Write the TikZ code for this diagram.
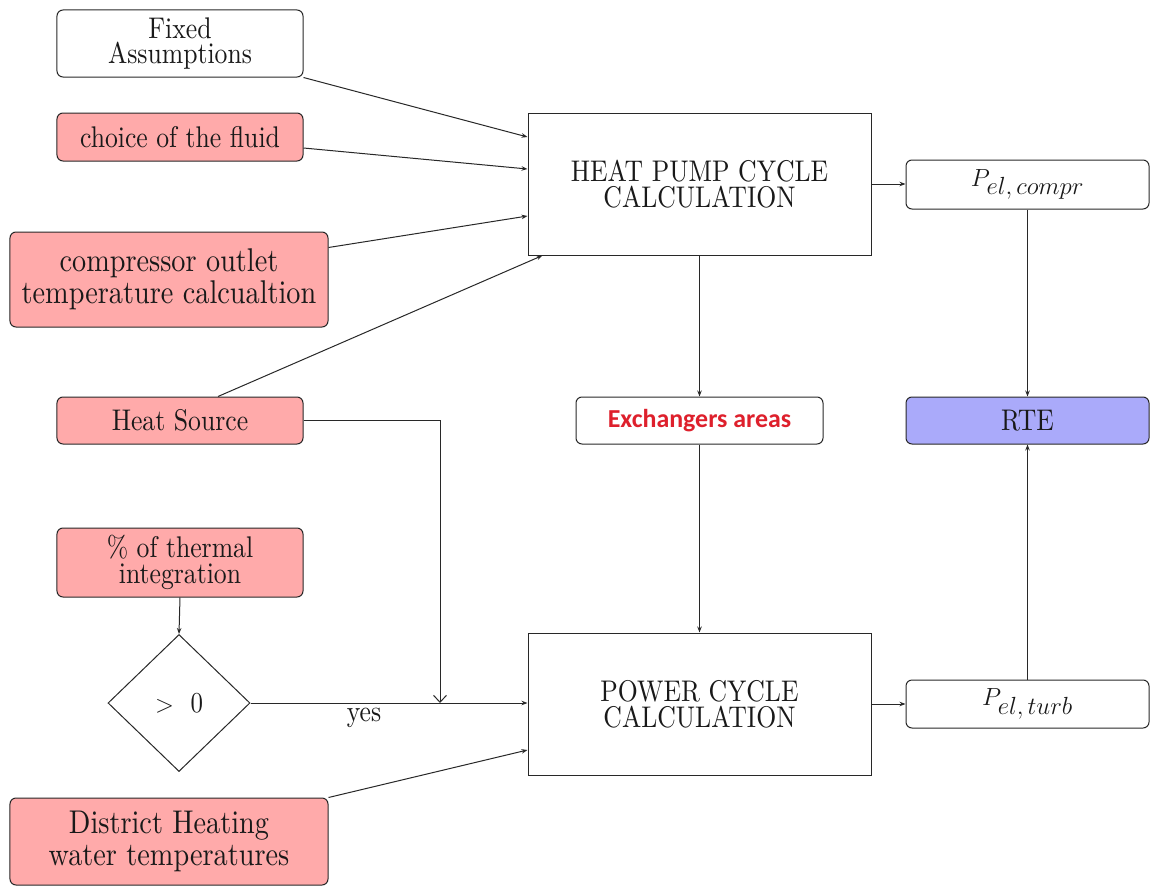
\documentclass[tikz,border=0pt]{standalone}
\usepackage{fontspec}
\setmainfont{lmroman10-regular.otf}[FakeStretch=0.86]
\newfontfamily\carlito{Carlito}
\usetikzlibrary{shapes.geometric,arrows.meta,calc}
\definecolor{pinkfill}{RGB}{255,170,170}
\definecolor{rtefill}{RGB}{170,170,250}
\definecolor{exred}{RGB}{222,32,44}
\definecolor{linec}{RGB}{40,40,40}
\newcommand{\subsz}[1]{\mbox{\fontsize{24}{24}\selectfont$#1$}}
\begin{document}
\begin{tikzpicture}[x=1bp,y=-1bp,
  box/.style={draw=linec, line width=1bp, inner sep=0pt, align=center, text=black!90,
    font=\fontsize{30}{26}\selectfont},
  rbox/.style={box, rounded corners=6bp},
  pinkbox/.style={rbox, fill=pinkfill},
  bigfont/.style={font=\fontsize{33}{32}\selectfont},
  mathfont/.style={font=\fontsize{29}{29}\selectfont},
  arr/.style={draw=linec, line width=1bp, -{Stealth[length=6bp,width=4.5bp]}},
  barb/.style={draw=linec, line width=1bp, -{Straight Barb[length=7bp,width=13bp]}}]
\fill[white] (0,0) rectangle (1151,893);
\useasboundingbox (0,0) rectangle (1151,893);

% left column
\node[rbox, minimum width=246bp, minimum height=67bp] (fixed) at (180,43.5) {Fixed\\Assumptions};
\node[pinkbox, minimum width=246bp, minimum height=48bp] (fluid) at (180,137) {choice of the fluid};
\node[pinkbox, bigfont, minimum width=318bp, minimum height=95bp] (compr) at (169,279.5) {compressor outlet\\temperature calcualtion};
\node[pinkbox, minimum width=246bp, minimum height=47bp] (heatsrc) at (180,420.5) {Heat Source};
\node[pinkbox, minimum width=246bp, minimum height=69bp] (thermal) at (180,562.5) {\% of thermal\\integration};
\node[box, mathfont, diamond, aspect=1, minimum width=142bp, minimum height=137bp] (dec) at (179,703) {$>$\ \ 0};
\node[pinkbox, bigfont, minimum width=318bp, minimum height=87bp] (district) at (169,841.5) {District Heating\\water temperatures};

% middle column
\node[box, minimum width=343bp, minimum height=142bp] (hp) at (699.5,184) {HEAT PUMP CYCLE\\CALCULATION};
\node[rbox, minimum width=247bp, minimum height=47bp, font=\carlito\bfseries\fontsize{26}{28}\selectfont, text=exred] (exch) at (699.5,420.5) {Exchangers areas};
\node[box, minimum width=343bp, minimum height=142bp] (power) at (699.5,704) {POWER CYCLE\\CALCULATION};

% right column
\node[rbox, mathfont, minimum width=243bp, minimum height=49bp] (pcompr) at (1027.5,184.5) {$P_{\subsz{el,compr}}$};
\node[rbox, fill=rtefill, minimum width=243bp, minimum height=47bp] (rte) at (1027.5,420.5) {RTE};
\node[rbox, mathfont, minimum width=243bp, minimum height=48bp] (pturb) at (1027.5,704) {$P_{\subsz{el,turb}}$};

% label
\node[font=\fontsize{30}{25}\selectfont, text=black!90, inner sep=0pt] (yes) at (364,718) {yes};

% junction
\coordinate (j) at (440,703);

% connectors
\draw[arr] (fixed.south east) -- ([yshift=47bp]hp.west);
\draw[arr] ([yshift=-11bp]fluid.east) -- ([yshift=15bp]hp.west);
\draw[arr] ([yshift=32bp]compr.east) -- ([yshift=-32bp]hp.west);
\draw[arr] ([xshift=38bp]heatsrc.north) -- ([xshift=15bp]hp.south west);
\draw[barb] (heatsrc.east) -| (j);
\draw[arr] (thermal.south) -- (dec.north);
\draw[arr] (dec.east) -- (dec.east -| power.west);
\draw[arr] (district.north east) -- ([yshift=-46bp]power.west);
\draw[arr] (hp.east) -- (hp.east -| pcompr.west);
\draw[arr] (hp.south) -- (exch.north);
\draw[arr] (exch.south) -- (power.north);
\draw[arr] (power.east) -- (power.east -| pturb.west);
\draw[arr] (pcompr.south) -- (rte.north);
\draw[arr] (pturb.north) -- (rte.south);
\end{tikzpicture}
\end{document}
